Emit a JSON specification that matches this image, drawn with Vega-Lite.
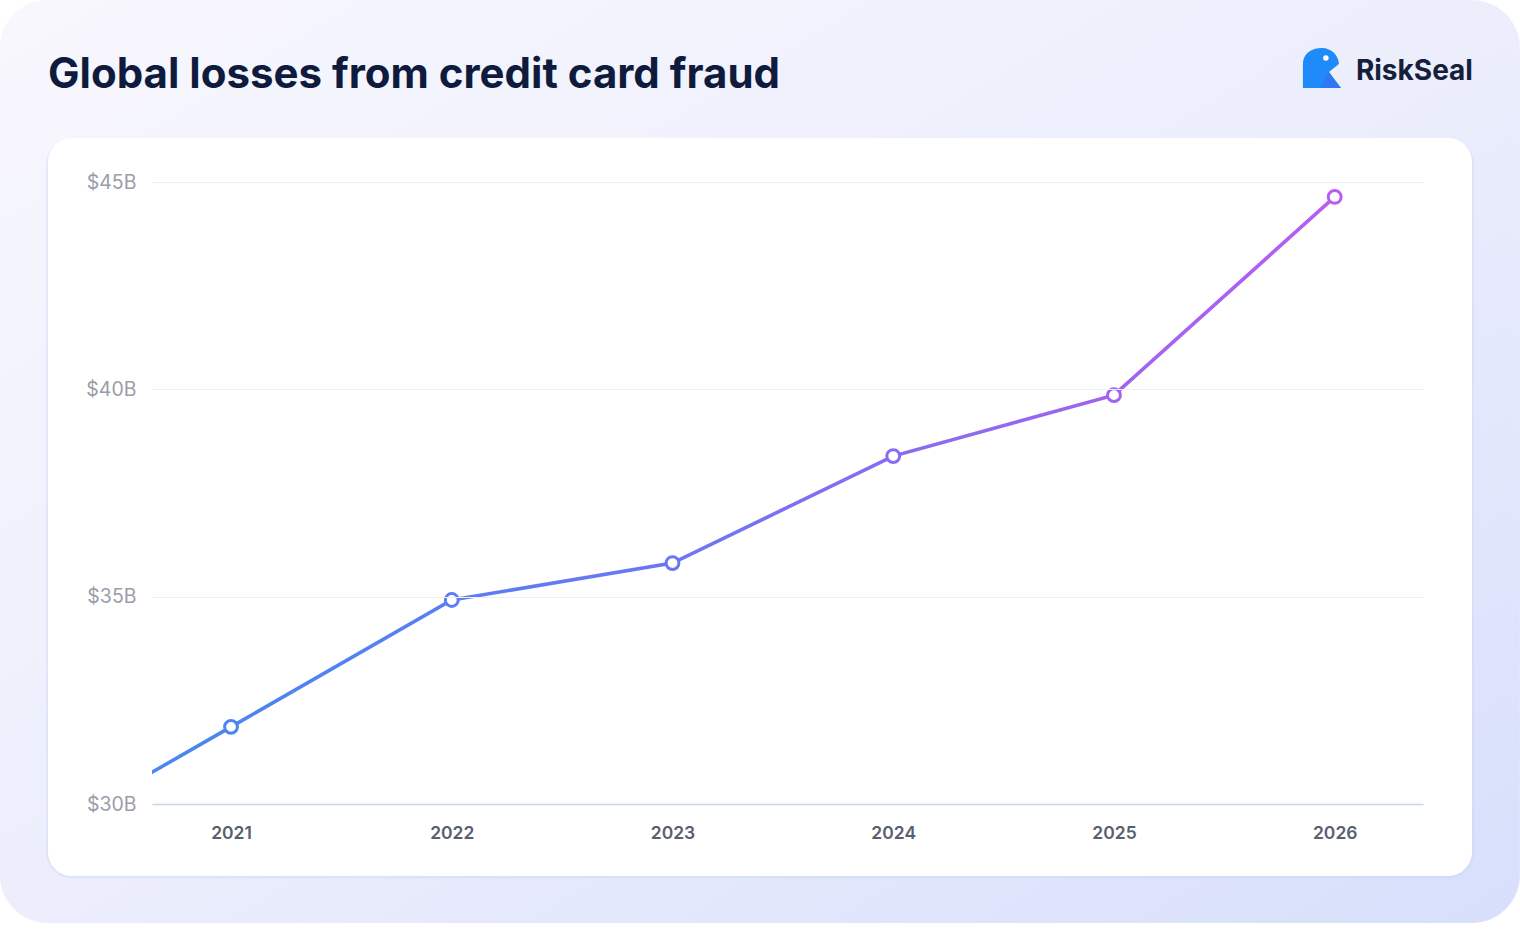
{
  "$schema": "https://vega.github.io/schema/vega-lite/v6.json",
  "width": 1271,
  "height": 622,
  "autosize": {"type": "none"},
  "padding": {"left": 152, "top": 182, "right": 97, "bottom": 128},
  "background": "white",
  "config": {"view": {"stroke": null}},
  "datasets": {
    "losses": [
      {"year": 2020, "loss": 28.8},
      {"year": 2021, "loss": 31.86},
      {"year": 2022, "loss": 34.92},
      {"year": 2023, "loss": 35.81},
      {"year": 2024, "loss": 38.39},
      {"year": 2025, "loss": 39.86},
      {"year": 2026, "loss": 44.64}
    ],
    "labels": [
      {"role": "title", "text": "Global losses from credit card fraud"},
      {"role": "brand", "text": "RiskSeal"}
    ]
  },
  "layer": [
    {
      "data": {"name": "labels"},
      "transform": [{"filter": "datum.role === 'title'"}],
      "mark": {
        "type": "rect",
        "clip": false,
        "cornerRadius": 48,
        "fill": {
          "gradient": "linear",
          "x1": 0, "y1": 0, "x2": 1, "y2": 1,
          "stops": [
            {"offset": 0, "color": "#F8F7FE"},
            {"offset": 0.5, "color": "#ECEEFC"},
            {"offset": 1, "color": "#D7DFFB"}
          ]
        }
      },
      "encoding": {
        "x": {"datum": 2019.953, "type": "quantitative", "scale": {"domain": [2020.642, 2026.4], "nice": false, "zero": false}},
        "x2": {"datum": 2026.839},
        "y": {"datum": 49.389, "type": "quantitative", "scale": {"domain": [30, 45], "nice": false, "zero": false}},
        "y2": {"datum": 27.13}
      }
    },
    {
      "data": {"name": "labels"},
      "transform": [{"filter": "datum.role === 'title'"}],
      "mark": {"type": "rect", "clip": false, "cornerRadius": 26, "fill": "#C9D0F4", "opacity": 0.35},
      "encoding": {
        "x": {"datum": 2020.162, "type": "quantitative"},
        "x2": {"datum": 2026.631},
        "y": {"datum": 46.04, "type": "quantitative"},
        "y2": {"datum": 28.21}
      }
    },
    {
      "data": {"name": "labels"},
      "transform": [{"filter": "datum.role === 'title'"}],
      "mark": {"type": "rect", "clip": false, "cornerRadius": 24, "fill": "white"},
      "encoding": {
        "x": {"datum": 2020.171, "type": "quantitative"},
        "x2": {"datum": 2026.622},
        "y": {"datum": 46.061, "type": "quantitative"},
        "y2": {"datum": 28.264}
      }
    },
    {
      "data": {"name": "losses"},
      "mark": {"type": "line", "clip": true, "strokeWidth": 3.6,
        "stroke": {
          "gradient": "linear",
          "x1": 0, "y1": 0, "x2": 1, "y2": 0,
          "stops": [
            {"offset": 0, "color": "#4888F2"},
            {"offset": 0.167, "color": "#4A86F2"},
            {"offset": 0.333, "color": "#5B7EF2"},
            {"offset": 0.5, "color": "#6D76F2"},
            {"offset": 0.667, "color": "#876CF2"},
            {"offset": 0.833, "color": "#9F64F1"},
            {"offset": 1, "color": "#B65EF2"}
          ]
        }
      },
      "encoding": {
        "x": {
          "field": "year",
          "type": "quantitative",
          "axis": {
            "title": null,
            "zindex": 1,
            "values": [2021, 2022, 2023, 2024, 2025, 2026],
            "format": "d",
            "grid": false,
            "ticks": false,
            "domain": true,
            "domainColor": "#C6D4EE",
            "domainWidth": 1.5,
            "labelFont": "Inter",
            "labelFontSize": 17.5,
            "labelFontWeight": 600,
            "labelColor": "#5A5F70",
            "labelPadding": 20
          }
        },
        "y": {
          "field": "loss",
          "type": "quantitative",
          "axis": {
            "title": null,
            "zindex": 1,
            "values": [30, 35, 40, 45],
            "labelExpr": "'$' + datum.value + 'B'",
            "grid": true,
            "gridColor": "#EEF0F6",
            "gridWidth": 1.2,
            "ticks": false,
            "domain": false,
            "labelFont": "Inter",
            "labelFontSize": 19.5,
            "labelColor": "#9A9DAA",
            "labelPadding": 16
          }
        }
      }
    },
    {
      "data": {"name": "losses"},
      "transform": [{"filter": "datum.year >= 2021"}],
      "mark": {"type": "point", "filled": false, "fill": "white", "fillOpacity": 1, "opacity": 1, "size": 165, "strokeWidth": 3},
      "encoding": {
        "x": {"field": "year", "type": "quantitative"},
        "y": {"field": "loss", "type": "quantitative"},
        "color": {
          "field": "year",
          "type": "ordinal",
          "legend": null,
          "scale": {
            "domain": [2021, 2022, 2023, 2024, 2025, 2026],
            "range": ["#4A86F2", "#5B7EF2", "#6D76F2", "#876CF2", "#9F64F1", "#B65EF2"]
          }
        }
      }
    },
    {
      "data": {"name": "labels"},
      "transform": [{"filter": "datum.role === 'brand'"}],
      "mark": {
        "type": "point",
        "clip": false,
        "filled": true,
        "opacity": 1,
        "size": 1600,
        "color": "#1E8BF8",
        "shape": "M-0.95,1 L-0.95,-0.2 C-0.95,-0.7 -0.55,-1 0,-1 C0.5,-1 0.85,-0.6 0.85,-0.2 L0.35,0.2 L0.95,1 Z"
      },
      "encoding": {
        "x": {"datum": 2025.942, "type": "quantitative"},
        "y": {"datum": 47.749, "type": "quantitative"}
      }
    },
    {
      "data": {"name": "labels"},
      "transform": [{"filter": "datum.role === 'brand'"}],
      "mark": {
        "type": "point",
        "clip": false,
        "filled": true,
        "opacity": 1,
        "size": 1600,
        "color": "#2F78F4",
        "shape": "M0.35,0.2 L0.95,1 L-0.1,1 Z"
      },
      "encoding": {
        "x": {"datum": 2025.942, "type": "quantitative"},
        "y": {"datum": 47.749, "type": "quantitative"}
      }
    },
    {
      "data": {"name": "labels"},
      "transform": [{"filter": "datum.role === 'brand'"}],
      "mark": {"type": "point", "clip": false, "filled": true, "opacity": 1, "size": 30, "color": "white", "shape": "circle"},
      "encoding": {
        "x": {"datum": 2025.96, "type": "quantitative"},
        "y": {"datum": 47.99, "type": "quantitative"}
      }
    },
    {
      "data": {"name": "labels"},
      "transform": [{"filter": "datum.role === 'brand'"}],
      "mark": {
        "type": "text",
        "clip": false,
        "align": "left",
        "baseline": "alphabetic",
        "font": "Inter",
        "fontSize": 28,
        "fontWeight": 700,
        "color": "#15203A"
      },
      "encoding": {
        "text": {"field": "text"},
        "x": {"datum": 2026.096, "type": "quantitative"},
        "y": {"datum": 47.46, "type": "quantitative"}
      }
    },
    {
      "data": {"name": "labels"},
      "transform": [{"filter": "datum.role === 'title'"}],
      "mark": {
        "type": "text",
        "clip": false,
        "align": "left",
        "baseline": "alphabetic",
        "font": "Inter",
        "fontSize": 42,
        "fontWeight": 700,
        "color": "#0E1B3D"
      },
      "encoding": {
        "text": {"field": "text"},
        "x": {"datum": 2020.171, "type": "quantitative"},
        "y": {"datum": 47.267, "type": "quantitative"}
      }
    }
  ]
}
